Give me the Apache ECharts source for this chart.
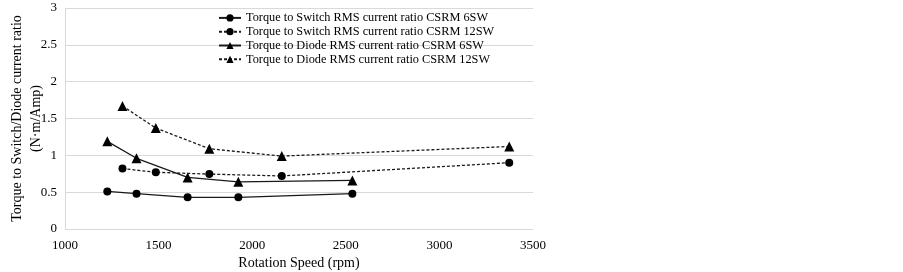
<!DOCTYPE html>
<html>
<head>
<meta charset="utf-8">
<script src="https://cdn.jsdelivr.net/npm/echarts@6/dist/echarts.min.js"></script>
<style>
  html, body { margin: 0; padding: 0; background: #fff; }
  #chart { width: 903px; height: 272px; }
</style>
</head>
<body>
<div id="chart"></div>
<script>
// values
var speed6 = [1226, 1382, 1655, 1926, 2535];
var speed12 = [1307, 1485, 1771, 2158, 3373];
var switch6 = [0.51, 0.48, 0.43, 0.43, 0.48];
var switch12 = [0.82, 0.77, 0.745, 0.72, 0.90];
var diode6 = [1.19, 0.96, 0.70, 0.64, 0.66];
var diode12 = [1.67, 1.37, 1.09, 0.99, 1.12];
var seriesNames = [
  'Torque to Switch RMS current ratio CSRM 6SW',
  'Torque to Switch RMS current ratio CSRM 12SW',
  'Torque to Diode RMS current ratio CSRM 6SW',
  'Torque to Diode RMS current ratio CSRM 12SW'
];

function pairs(xs, ys) {
  return xs.map(function (x, i) { return [x, ys[i]]; });
}

function makeSeries(name, data, symbol, dashed) {
  return {
    name: name,
    type: 'line',
    data: data,
    symbol: symbol,
    symbolSize: symbol === 'triangle' ? 10 : 8,
    showSymbol: true,
    itemStyle: { color: '#000' },
    lineStyle: { color: '#1a1a1a', width: 1.3, type: dashed ? [3, 2] : 'solid' },
    emphasis: { disabled: true },
    z: 3
  };
}

var font = 'Liberation Serif, Times New Roman, serif';
var chart = echarts.init(document.getElementById('chart'));
chart.setOption({
  animation: false,
  textStyle: { fontFamily: font, color: '#000' },
  grid: { left: 65, right: 370, top: 8, bottom: 43, containLabel: false, outerBoundsMode: 'none' },
  legend: {
    orient: 'vertical',
    left: 218,
    top: 11,
    padding: 0,
    itemWidth: 22,
    itemHeight: 9,
    itemGap: 0,
    textStyle: { fontFamily: font, fontSize: 12.3, lineHeight: 13.8, color: '#000' },
    data: seriesNames
  },
  xAxis: {
    type: 'value',
    min: 1000,
    max: 3500,
    interval: 500,
    name: 'Rotation Speed (rpm)',
    nameLocation: 'middle',
    nameGap: 27,
    nameMoveOverlap: false,
    nameTextStyle: { fontFamily: font, fontSize: 14, color: '#000' },
    axisLine: { show: false },
    axisTick: { show: false },
    splitLine: { show: false },
    axisLabel: {
      fontFamily: font, fontSize: 13, color: '#000', margin: 10,
      formatter: function (v) { return String(v); }
    }
  },
  yAxis: {
    type: 'value',
    min: 0,
    max: 3,
    interval: 0.5,
    name: 'Torque to Switch/Diode current ratio\n(N·m/Amp)',
    nameLocation: 'middle',
    nameGap: 19,
    nameMoveOverlap: false,
    nameTextStyle: { fontFamily: font, fontSize: 14, color: '#000', lineHeight: 19 },
    axisLine: { show: true, lineStyle: { color: '#d9d9d9' } },
    axisTick: { show: false },
    splitLine: { lineStyle: { color: '#d9d9d9', width: 1 } },
    axisLabel: { fontFamily: font, fontSize: 13, color: '#000', margin: 8 }
  },
  series: [
    makeSeries(seriesNames[0], pairs(speed6, switch6), 'circle', false),
    makeSeries(seriesNames[1], pairs(speed12, switch12), 'circle', true),
    makeSeries(seriesNames[2], pairs(speed6, diode6), 'triangle', false),
    makeSeries(seriesNames[3], pairs(speed12, diode12), 'triangle', true)
  ]
});
</script>
</body>
</html>
